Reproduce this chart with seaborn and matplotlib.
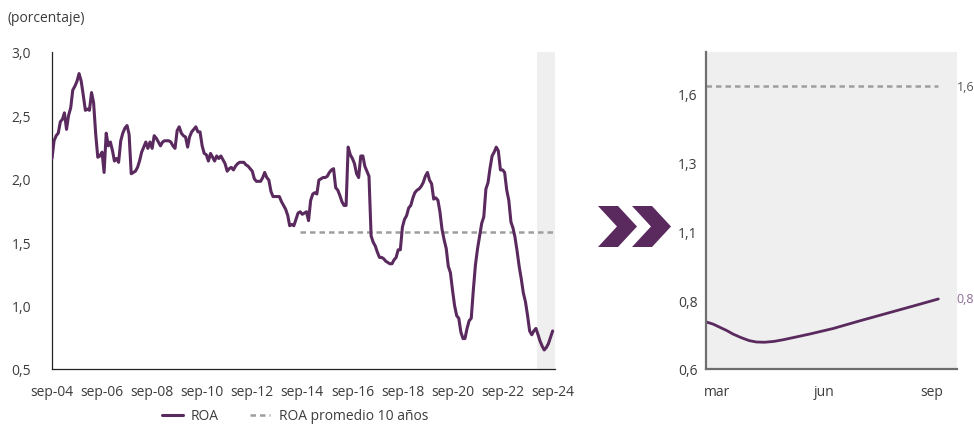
import numpy as np
import pandas as pd
import matplotlib
matplotlib.use("Agg")
import matplotlib.pyplot as plt
from matplotlib.patches import Polygon
from matplotlib.lines import Line2D
import seaborn as sns

# ---------------- data ----------------
roa_values = [
    2.16, 2.30, 2.34, 2.36, 2.45, 2.47, 2.52, 2.39, 2.50, 2.56, 2.70, 2.73,
    2.77, 2.83, 2.77, 2.66, 2.54, 2.55, 2.54, 2.68, 2.60, 2.35, 2.17, 2.18,
    2.21, 2.05, 2.36, 2.26, 2.29, 2.22, 2.14, 2.16, 2.13, 2.30, 2.36, 2.40,
    2.42, 2.35, 2.04, 2.05, 2.06, 2.09, 2.14, 2.21, 2.25, 2.29, 2.24, 2.29,
    2.24, 2.34, 2.32, 2.29, 2.26, 2.29, 2.30, 2.30, 2.30, 2.29, 2.26, 2.24,
    2.38, 2.41, 2.36, 2.34, 2.33, 2.25, 2.33, 2.37, 2.39, 2.41, 2.37, 2.37,
    2.26, 2.20, 2.19, 2.14, 2.20, 2.17, 2.14, 2.18, 2.16, 2.18, 2.15, 2.12,
    2.06, 2.08, 2.09, 2.07, 2.10, 2.12, 2.13, 2.13, 2.13, 2.11, 2.10, 2.08,
    2.06, 2.00, 1.98, 1.98, 1.98, 2.01, 2.05, 2.01, 1.99, 1.90, 1.86, 1.86,
    1.86, 1.86, 1.82, 1.79, 1.76, 1.71, 1.63, 1.64, 1.63, 1.68, 1.73, 1.74,
    1.72, 1.73, 1.74, 1.67, 1.83, 1.88, 1.89, 1.88, 1.99, 2.00, 2.01, 2.01,
    2.02, 2.05, 2.07, 2.08, 1.93, 1.91, 1.87, 1.82, 1.79, 1.79, 2.25, 2.19,
    2.16, 2.12, 2.04, 2.01, 2.18, 2.18, 2.10, 2.06, 2.02, 1.55, 1.50, 1.47,
    1.42, 1.38, 1.38, 1.37, 1.35, 1.34, 1.33, 1.33, 1.36, 1.38, 1.44, 1.44,
    1.62, 1.68, 1.71, 1.77, 1.79, 1.85, 1.89, 1.91, 1.92, 1.94, 1.97, 2.02,
    2.05, 1.99, 1.96, 1.84, 1.85, 1.83, 1.74, 1.60, 1.52, 1.45, 1.31, 1.26,
    1.12, 1.00, 0.92, 0.90, 0.79, 0.74, 0.74, 0.82, 0.88, 0.90, 1.12, 1.32,
    1.45, 1.55, 1.65, 1.70, 1.92, 1.97, 2.08, 2.18, 2.21, 2.25, 2.22, 2.07,
    2.07, 2.05, 1.91, 1.83, 1.66, 1.61, 1.54, 1.43, 1.31, 1.21, 1.10, 1.03,
    0.92, 0.80, 0.77, 0.80, 0.82, 0.77, 0.72, 0.68, 0.65, 0.67, 0.70, 0.75,
    0.80,
]
roa_start = "2004-09-01"
avg_10y = 1.58
avg_start = "2014-08-01"

x_tick_dates = ["2004-09-01", "2006-09-01", "2008-09-01", "2010-09-01", "2012-09-01",
                "2014-09-01", "2016-09-01", "2018-09-01", "2020-09-01", "2022-09-01",
                "2024-09-01"]
x_tick_labels = ["sep-04", "sep-06", "sep-08", "sep-10", "sep-12", "sep-14",
                 "sep-16", "sep-18", "sep-20", "sep-22", "sep-24"]
y_ticks_left = [0.5, 1.0, 1.5, 2.0, 2.5, 3.0]
y_labels_left = ["0,5", "1,0", "1,5", "2,0", "2,5", "3,0"]

zoom_dates = ["2024-03-01", "2024-03-07", "2024-03-13", "2024-03-19", "2024-03-24",
              "2024-03-31", "2024-04-07", "2024-04-13", "2024-04-20", "2024-04-28",
              "2024-05-06", "2024-05-17", "2024-05-29", "2024-06-18", "2024-07-11",
              "2024-08-03", "2024-08-26", "2024-09-16"]
zoom_values = [0.721, 0.713, 0.701, 0.689, 0.677, 0.664, 0.653, 0.648, 0.647,
               0.650, 0.656, 0.666, 0.677, 0.697, 0.725, 0.752, 0.779, 0.804]
zoom_avg = 1.575
y_ticks_right = [0.55, 0.80, 1.05, 1.30, 1.55]
y_labels_right = ["0,6", "0,8", "1,1", "1,3", "1,6"]
x_ticks_right = ["2024-03-01", "2024-06-01", "2024-09-01"]
x_labels_right = ["mar", "jun", "sep"]
end_label_avg = "1,6"
end_label_roa = "0,8"

# ---------------- style ----------------
sns.set_style("white")
plt.rcParams["font.family"] = ["Open Sans", "DejaVu Sans"]

PURPLE = "#5a2a5f"
LIGHT_PURPLE = "#8d6d97"
GRAY_DASH = "#9e9e9e"
SHADE = "#efefef"
TEXT = "#3c3c3c"
FS = 10

W, H = 974, 427
fig = plt.figure(figsize=(W / 100, H / 100), dpi=100)
ax1 = fig.add_axes([52 / W, 57 / H, 503 / W, 317 / H])
ax2 = fig.add_axes([706 / W, 57 / H, 251 / W, 317 / H])

# ---------------- left panel ----------------
dates = pd.date_range(roa_start, periods=len(roa_values), freq="MS")
df = pd.DataFrame({"fecha": dates, "ROA": roa_values})
df_avg = df[df["fecha"] >= pd.Timestamp(avg_start)].copy()
df_avg["prom"] = avg_10y

x_left_lim = (pd.Timestamp("2004-09-01"), pd.Timestamp("2024-10-05"))
ax1.axvspan(pd.Timestamp("2024-01-10"), x_left_lim[1], color=SHADE, lw=0, zorder=0)

sns.lineplot(data=df_avg, x="fecha", y="prom", ax=ax1, color=GRAY_DASH, lw=1.8,
             legend=False, zorder=2)
ax1.get_lines()[-1].set_linestyle((0, (2.2, 1.6)))
sns.lineplot(data=df, x="fecha", y="ROA", ax=ax1, color=PURPLE, lw=2.2,
             legend=False, zorder=3)

ax1.set_xlim(*x_left_lim)
ax1.set_ylim(0.5, 3.0)
ax1.set_xticks(pd.to_datetime(x_tick_dates))
ax1.set_xticklabels(x_tick_labels)
ax1.set_yticks(y_ticks_left)
ax1.set_yticklabels(y_labels_left)
ax1.set_xlabel("")
ax1.set_ylabel("")
for s in ["top", "right"]:
    ax1.spines[s].set_visible(False)
for s in ["left", "bottom"]:
    ax1.spines[s].set_color("#222222")
    ax1.spines[s].set_linewidth(0.9)
ax1.tick_params(axis="both", direction="in", length=4, width=0.9, color="#222222",
                labelsize=FS, labelcolor=TEXT)
ax1.tick_params(axis="y", pad=15)
ax1.tick_params(axis="x", pad=11)

# ---------------- right panel ----------------
ax2.set_facecolor(SHADE)
dz = pd.DataFrame({"fecha": pd.to_datetime(zoom_dates), "ROA": zoom_values})
dz["prom"] = zoom_avg
sns.lineplot(data=dz, x="fecha", y="prom", ax=ax2, color=GRAY_DASH, lw=1.8,
             legend=False)
ax2.get_lines()[-1].set_linestyle((0, (2.2, 1.6)))
sns.lineplot(data=dz, x="fecha", y="ROA", ax=ax2, color=PURPLE, lw=2.0,
             legend=False)

ax2.set_xlim(pd.Timestamp("2024-03-01"), pd.Timestamp("2024-10-02"))
ax2.set_ylim(0.55, 1.70)
ax2.set_yticks(y_ticks_right)
ax2.set_yticklabels(y_labels_right)
ax2.set_xticks(pd.to_datetime(x_ticks_right))
ax2.set_xticklabels([""] * len(x_ticks_right))
ax2.set_xticks(pd.to_datetime(x_ticks_right) + pd.Timedelta(days=9), minor=True)
ax2.set_xticklabels(x_labels_right, minor=True)
ax2.set_xlabel("")
ax2.set_ylabel("")
for s in ["top", "right"]:
    ax2.spines[s].set_visible(False)
for s in ["left", "bottom"]:
    ax2.spines[s].set_color("#6e6e6e")
    ax2.spines[s].set_linewidth(1.6)
ax2.tick_params(axis="both", which="major", direction="in", length=4, width=0.9,
                color="#222222", labelsize=FS, labelcolor=TEXT)
ax2.tick_params(axis="y", pad=6)
ax2.tick_params(axis="x", which="minor", length=0, pad=11, labelsize=FS,
                labelcolor=TEXT)

ax2.text(0.998, zoom_avg, end_label_avg, transform=ax2.get_yaxis_transform(),
         ha="left", va="center", fontsize=9, color="#555555", clip_on=False)
ax2.text(0.998, zoom_values[-1], end_label_roa, transform=ax2.get_yaxis_transform(),
         ha="left", va="center", fontsize=9, color=LIGHT_PURPLE, clip_on=False)

# ---------------- decorations ----------------
fig.text(8 / W, 1 - 18 / H, "(porcentaje)", ha="left", va="center",
         fontsize=FS, color=TEXT)


def chevron(x0):
    pts = [(x0, 207), (x0 + 20, 207), (x0 + 39, 227.5), (x0 + 20, 248),
           (x0, 248), (x0 + 19, 227.5)]
    return Polygon([(x / W, 1 - y / H) for x, y in pts], closed=True,
                   transform=fig.transFigure, facecolor=PURPLE, edgecolor="none")


fig.patches.append(chevron(598))
fig.patches.append(chevron(632))

handles = [Line2D([], [], color=PURPLE, lw=2.2),
           Line2D([], [], color=GRAY_DASH, lw=1.8, ls=(0, (2.2, 1.6)))]
fig.legend(handles, ["ROA", "ROA promedio 10 años"], loc="center",
           bbox_to_anchor=(295 / W, 10 / H), ncol=2, frameon=False, fontsize=FS,
           handlelength=1.5, columnspacing=2.2, handletextpad=0.6,
           labelcolor=TEXT, borderpad=0.1)

fig.savefig("out.png", dpi=100)
